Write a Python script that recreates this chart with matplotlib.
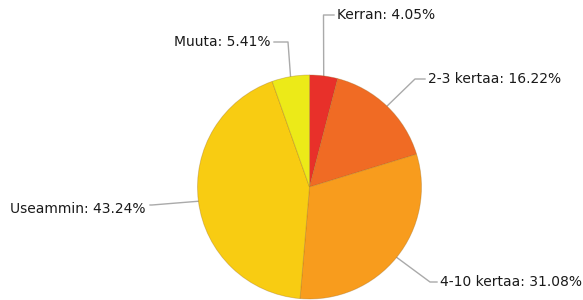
import numpy as np
import matplotlib
matplotlib.use("Agg")
import matplotlib.pyplot as plt

labels = ["Kerran", "2-3 kertaa", "4-10 kertaa", "Useammin", "Muuta"]
values = [4.05, 16.22, 31.08, 43.24, 5.41]
colors = ["#e8302a", "#f06b24", "#f89c1d", "#f8cc12", "#ecea18"]

# label layout (elbow point, text anchor) in pixel-like data coords (y up)
elbows = [(323.5, 285), (415, 221), (430, 18), (152, 95), (288, 258)]
text_pos = [(337, 285), (428, 221), (440, 18), (146, 91), (270, 258)]
aligns = ["left", "left", "left", "right", "right"]

W, H = 583, 300
fig = plt.figure(figsize=(W / 100, H / 100), dpi=100)
ax = fig.add_axes([0, 0, 1, 1])

cx, cy, r = 309.5, 113, 112
wedges, _ = ax.pie(values, colors=colors, startangle=90, counterclock=False,
                   center=(cx, cy), radius=r, frame=True,
                   wedgeprops=dict(linewidth=0.6, edgecolor=(0.6, 0.4, 0.1, 0.35)))
ax.set_xlim(0, W)
ax.set_ylim(0, H)
ax.axis("off")

for w, lab, v, (ex, ey), (tx, ty), ha in zip(wedges, labels, values, elbows, text_pos, aligns):
    ang = np.deg2rad((w.theta1 + w.theta2) / 2)
    px, py = cx + r * np.cos(ang), cy + r * np.sin(ang)
    endx = tx - 3 if ha == "left" else tx + 4
    ax.plot([px, ex, endx], [py, ey, ey], color="#aaaaaa", lw=1.0, zorder=0)
    ax.text(tx, ty, f"{lab}: {v:.2f}%", ha=ha, va="center", fontsize=10,
            color="#1a1a1a", family="DejaVu Sans")

fig.savefig("out.png", dpi=100)
